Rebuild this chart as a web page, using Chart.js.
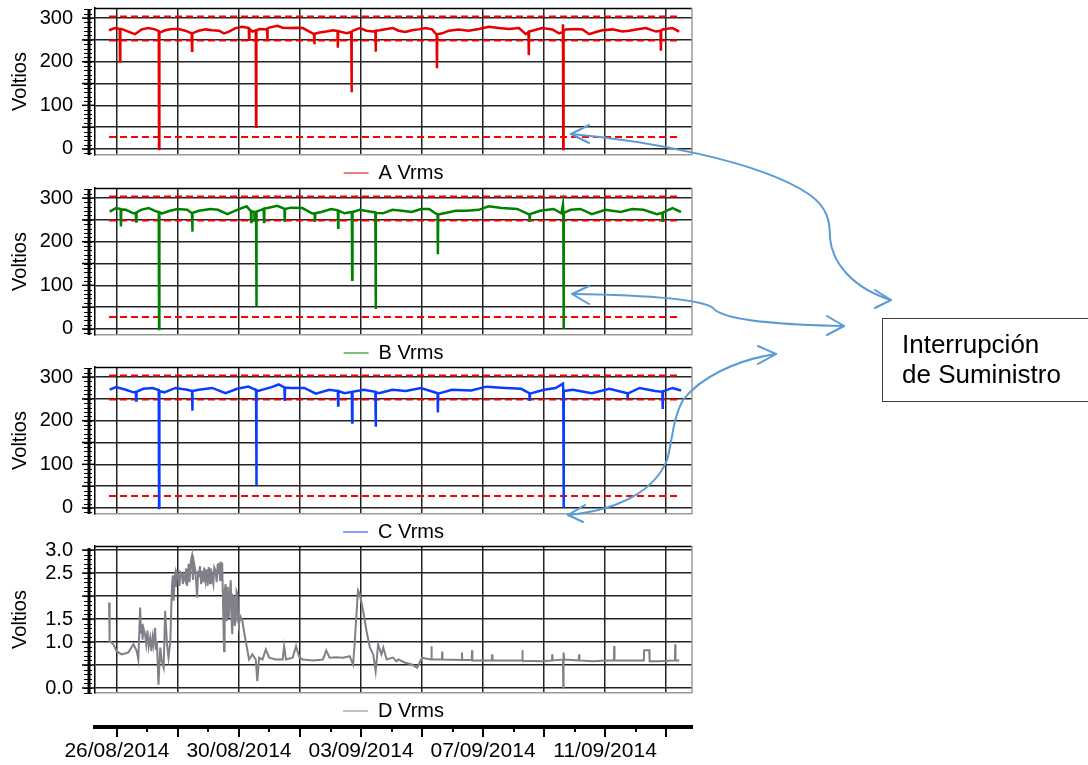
<!DOCTYPE html>
<html><head><meta charset="utf-8">
<script src="https://cdn.jsdelivr.net/npm/chart.js@4.4.1/dist/chart.umd.min.js"></script>
<style>
html,body{margin:0;padding:0;background:#fff;}
#wrap{position:relative;width:1088px;height:765px;overflow:hidden;font-family:"Liberation Sans",Arial,sans-serif;}
canvas{position:absolute;left:0;}
#note{position:absolute;left:882px;top:318px;width:230px;height:84px;border:1.5px solid #404040;box-sizing:border-box;font-size:26px;line-height:30px;color:#000;padding:10px 0 0 19px;white-space:nowrap;}
#arrows{position:absolute;left:0;top:0;pointer-events:none;}
</style></head>
<body>
<div id="wrap">
<canvas id="cA" width="700" height="193" style="top:0px"></canvas>
<canvas id="cB" width="700" height="193" style="top:180px"></canvas>
<canvas id="cC" width="700" height="193" style="top:359px"></canvas>
<canvas id="cD" width="700" height="193" style="top:538px"></canvas>
<canvas id="cX" width="700" height="65" style="top:700px"></canvas>
<svg id="arrows" width="1088" height="765" viewBox="0 0 1088 765">
<g fill="none" stroke="#5B9BD5" stroke-width="2" stroke-linecap="round" stroke-linejoin="round">
<path d="M571,134 C640,140 760,160 810,195 C828,208 830,222 830,238 C832,262 852,288 891,300"/>
<path d="M589,125 L571,134 L589,143"/>
<path d="M875,290 L891,300 L875,308"/>
<path d="M572,294 C640,295 700,298 713,308 C722,320 780,325 844,326"/>
<path d="M589,286 L572,294 L589,304"/>
<path d="M827,316 L844,326 L827,335"/>
<path d="M776,354 C735,360 700,378 683,400 C672,420 672,445 667,460 C655,490 620,510 568,515"/>
<path d="M758,346 L776,354 L758,364"/>
<path d="M585,505 L568,515 L583,522"/>
</g>
</svg>
<div id="note">Interrupción<br>de Suministro</div>
</div>
<script>
// ---------- data (day 0 = 26/08/2014 00:00) ----------
const xMin = -0.72, xMax = 18.85;
const gridDays = [0,2,4,6,8,10,12,14,16,18];
const allDays = [0,1,2,3,4,5,6,7,8,9,10,11,12,13,14,15,16,17,18];
const labelDays = [0,4,8,12,16];
const labelTexts = ['26/08/2014','30/08/2014','03/09/2014','07/09/2014','11/09/2014'];

const voltTicks = [0,50,100,150,200,250,300];
const voltTickLabels = ['0','','100','','200','','300'];
const dTicks = [0,0.5,1,1.5,2,2.5,3];
const dTickLabels = ['0.0','','1.0','1.5','','2.5','3.0'];

const limitSpan = [-0.26, 18.49];
const limits = [27.6, 248.4, 303.6];

const seriesA = [[-0.26,272],[-0.07,277],[0.09,275],[0.10,201],[0.11,275],[0.15,275],[0.37,269],[0.59,263],[0.81,274],[1.03,277],[1.25,274],[1.37,270],[1.38,0],[1.39,268],[1.42,267],[1.58,272],[1.80,275],[2.02,275],[2.24,271],[2.45,265],[2.46,225],[2.47,265],[2.68,271],[2.90,274],[3.12,272],[3.34,271],[3.51,265],[3.67,269],[3.89,277],[4.11,280],[4.32,277],[4.33,250],[4.34,275],[4.44,269],[4.55,272],[4.56,51],[4.57,270],[4.66,275],[4.92,274],[4.93,250],[4.94,276],[4.99,278],[5.26,282],[5.43,278],[5.65,277],[5.87,278],[6.09,277],[6.31,269],[6.46,263],[6.47,240],[6.48,264],[6.64,267],[6.86,269],[7.08,272],[7.23,270],[7.24,232],[7.25,270],[7.52,265],[7.68,268],[7.69,130],[7.70,269],[7.74,271],[7.96,277],[8.18,271],[8.40,269],[8.47,270],[8.48,223],[8.49,271],[8.62,272],[8.84,275],[9.05,277],[9.23,271],[9.45,268],[9.67,272],[9.89,274],[10.11,277],[10.33,274],[10.48,262],[10.49,185],[10.50,263],[10.66,265],[10.88,271],[11.20,274],[11.53,271],[11.86,275],[12.19,280],[12.52,277],[12.85,275],[13.18,277],[13.40,263],[13.49,268],[13.50,215],[13.51,269],[13.61,271],[13.94,277],[14.27,274],[14.49,265],[14.61,268],[14.62,286],[14.63,0],[14.64,270],[14.71,274],[15.04,275],[15.26,274],[15.48,263],[15.70,268],[15.91,272],[16.24,274],[16.57,269],[16.79,271],[17.12,275],[17.34,277],[17.67,269],[17.82,271],[17.83,225],[17.84,272],[17.89,274],[18.21,277],[18.43,269]];

const seriesB = [[-0.24,269],[-0.03,277],[0.12,275],[0.13,235],[0.14,274],[0.29,273],[0.54,265],[0.62,266],[0.63,246],[0.64,267],[0.79,273],[1.04,277],[1.30,269],[1.37,268],[1.38,0],[1.39,267],[1.48,265],[1.74,271],[1.99,275],[2.30,273],[2.46,265],[2.47,223],[2.48,266],[2.68,271],[3.06,275],[3.31,273],[3.62,263],[3.94,273],[4.25,281],[4.39,270],[4.40,245],[4.41,270],[4.44,269],[4.50,268],[4.51,245],[4.52,268],[4.56,268],[4.57,52],[4.58,269],[4.81,275],[4.82,245],[4.83,276],[4.94,277],[5.26,282],[5.49,275],[5.50,245],[5.51,275],[5.70,278],[6.08,277],[6.39,265],[6.48,264],[6.49,245],[6.50,265],[6.70,268],[7.02,275],[7.24,272],[7.25,232],[7.26,271],[7.46,265],[7.70,268],[7.71,113],[7.72,268],[7.96,273],[8.28,269],[8.47,267],[8.48,46],[8.49,266],[8.72,265],[9.03,273],[9.35,271],[9.66,268],[9.97,275],[10.23,275],[10.51,262],[10.52,171],[10.53,262],[10.73,265],[11.11,271],[11.48,271],[11.86,273],[12.18,281],[12.62,277],[13.12,275],[13.52,262],[13.53,245],[13.54,263],[13.87,271],[14.31,275],[14.57,265],[14.62,285],[14.63,270],[14.64,0],[14.65,266],[14.88,273],[15.19,275],[15.57,263],[16.01,273],[16.51,268],[16.89,275],[17.26,273],[17.70,263],[17.88,266],[17.89,245],[17.90,267],[18.21,277],[18.49,268]];

const seriesC = [[-0.24,271],[-0.03,277],[0.29,271],[0.54,265],[0.62,266],[0.63,246],[0.64,266],[0.86,273],[1.17,275],[1.37,270],[1.38,0],[1.39,268],[1.55,265],[1.92,275],[2.30,271],[2.46,268],[2.47,223],[2.48,268],[2.68,271],[3.12,275],[3.56,263],[3.94,273],[4.31,278],[4.56,270],[4.57,52],[4.58,270],[4.63,268],[5.07,277],[5.30,283],[5.49,276],[5.50,245],[5.51,276],[5.70,275],[6.14,275],[6.52,262],[6.96,271],[7.24,268],[7.25,235],[7.26,268],[7.46,263],[7.70,266],[7.71,196],[7.72,266],[8.09,271],[8.47,266],[8.48,186],[8.49,265],[8.59,263],[9.03,271],[9.47,268],[9.97,275],[10.51,263],[10.52,219],[10.53,262],[10.98,271],[11.61,269],[12.11,278],[12.74,275],[13.25,273],[13.52,263],[13.53,245],[13.54,262],[14.00,271],[14.38,275],[14.62,285],[14.63,270],[14.64,0],[14.65,268],[14.94,271],[15.57,263],[16.14,273],[16.73,263],[16.74,250],[16.75,262],[17.13,275],[17.64,268],[17.88,266],[17.89,227],[17.90,267],[18.21,275],[18.49,269]];

const seriesD = [[-0.26,1.86],[-0.25,1.02],[-0.23,1.02],[-0.12,0.95],[-0.01,0.80],[0.15,0.73],[0.37,0.77],[0.54,0.95],[0.65,0.80],[0.70,0.62],[0.76,1.75],[0.79,1.20],[0.81,1.39],[0.84,1.05],[0.87,1.30],[0.92,1.17],[0.96,0.95],[1.00,1.25],[1.04,0.90],[1.09,1.09],[1.13,0.80],[1.17,1.10],[1.20,0.95],[1.25,1.31],[1.28,0.85],[1.31,1.02],[1.36,0.07],[1.42,0.88],[1.47,0.58],[1.53,0.44],[1.58,1.68],[1.64,0.95],[1.69,0.66],[1.75,1.02],[1.80,2.19],[1.83,2.45],[1.86,1.90],[1.89,2.40],[1.91,2.48],[1.94,2.20],[1.97,2.50],[2.02,2.41],[2.05,2.22],[2.08,2.52],[2.13,2.48],[2.16,2.26],[2.19,2.45],[2.24,2.34],[2.27,2.60],[2.30,2.22],[2.35,2.70],[2.38,2.30],[2.42,2.75],[2.46,2.88],[2.49,2.35],[2.52,2.74],[2.57,2.55],[2.60,2.25],[2.63,1.97],[2.66,2.55],[2.68,2.41],[2.72,2.65],[2.76,2.26],[2.79,2.55],[2.83,2.30],[2.86,2.62],[2.90,2.34],[2.94,2.58],[2.97,2.22],[3.01,2.63],[3.05,2.28],[3.08,2.60],[3.12,2.41],[3.16,2.26],[3.19,2.62],[3.23,2.55],[3.27,2.30],[3.30,2.68],[3.34,2.70],[3.38,2.35],[3.41,2.72],[3.45,2.70],[3.51,0.80],[3.53,2.10],[3.56,2.26],[3.60,1.45],[3.63,2.20],[3.67,1.53],[3.70,2.05],[3.73,2.34],[3.76,1.40],[3.78,1.17],[3.81,2.00],[3.84,1.97],[3.86,1.35],[3.89,1.46],[3.92,2.10],[3.95,2.04],[3.97,1.45],[4.00,1.39],[4.05,1.55],[4.11,1.46],[4.16,1.25],[4.22,1.02],[4.33,0.62],[4.44,0.73],[4.55,0.62],[4.60,0.15],[4.66,0.66],[4.77,0.62],[4.88,0.84],[4.99,0.66],[5.21,0.62],[5.43,0.62],[5.48,0.91],[5.54,0.62],[5.76,0.66],[5.87,0.91],[5.98,0.66],[6.09,0.62],[6.42,0.60],[6.75,0.62],[6.86,0.82],[6.97,0.66],[7.19,0.67],[7.41,0.66],[7.63,0.69],[7.74,0.51],[7.79,0.95],[7.90,2.12],[7.96,2.04],[8.07,1.68],[8.18,1.24],[8.29,0.88],[8.40,0.73],[8.48,0.36],[8.56,0.95],[8.67,0.73],[8.73,0.88],[8.84,0.62],[9.05,0.66],[9.16,0.58],[9.23,0.62],[9.45,0.55],[9.67,0.51],[9.84,0.44],[10.00,0.66],[10.11,0.64],[10.30,0.62],[10.31,0.91],[10.32,0.62],[10.65,0.62],[10.66,0.79],[10.67,0.62],[11.30,0.61],[11.31,0.77],[11.32,0.61],[11.63,0.61],[11.64,0.82],[11.65,0.60],[12.29,0.60],[12.30,0.73],[12.31,0.60],[12.85,0.60],[13.28,0.60],[13.29,0.82],[13.30,0.59],[13.94,0.58],[14.26,0.60],[14.27,0.73],[14.28,0.60],[14.62,0.62],[14.63,0.00],[14.64,0.77],[14.66,0.62],[15.14,0.60],[15.15,0.73],[15.16,0.60],[15.59,0.58],[16.02,0.60],[16.29,0.60],[16.30,0.91],[16.31,0.60],[16.68,0.60],[17.27,0.60],[17.28,0.82],[17.45,0.82],[17.46,0.58],[17.78,0.58],[18.29,0.60],[18.30,0.95],[18.31,0.60],[18.43,0.60]];

// ---------- rendering ----------
const FAMILY = '"Liberation Sans", Arial, sans-serif';
Chart.defaults.font.family = FAMILY;
Chart.defaults.color = '#000';

const framePlugin = {
  id: 'frame',
  afterDraw(chart, args, opts) {
    const {ctx, chartArea: {left, top, right, bottom}} = chart;
    const ys = chart.scales.y;
    ctx.save();
    ctx.lineWidth = 1.5;
    ctx.strokeStyle = '#000';
    ctx.beginPath(); ctx.moveTo(left, top + 0.5); ctx.lineTo(right, top + 0.5); ctx.stroke();
    ctx.strokeStyle = '#9a9a9a';
    ctx.beginPath(); ctx.moveTo(right, top); ctx.lineTo(right, bottom); ctx.stroke();
    const sx = left - 6;
    ctx.strokeStyle = '#000';
    ctx.lineWidth = 3;
    ctx.beginPath(); ctx.moveTo(sx, top + 2); ctx.lineTo(sx, bottom); ctx.stroke();
    ctx.lineWidth = 1;
    const step = opts.minor;
    const n0 = Math.ceil(ys.min / step), n1 = Math.floor(ys.max / step);
    for (let k = n0; k <= n1; k++) {
      const py = Math.round(ys.getPixelForValue(k * step)) + 0.5;
      ctx.beginPath(); ctx.moveTo(sx - 5, py); ctx.lineTo(sx + 3, py); ctx.stroke();
    }
    ctx.lineWidth = 1.5;
    ys.ticks.forEach(t => {
      const py = ys.getPixelForValue(t.value);
      ctx.beginPath(); ctx.moveTo(sx - 7, py); ctx.lineTo(left, py); ctx.stroke();
    });
    ctx.restore();
  }
};

function thinLegendLabels(chart) {
  return Chart.defaults.plugins.legend.labels.generateLabels(chart).map(l => Object.assign(l, {lineWidth: 1}));
}

function panel(id, points, color, lineW, name, ticks, tickLabels, yMin, yMax, lims, minor) {
  const datasets = [{
    label: name,
    data: points.map(p => ({x: p[0], y: p[1]})),
    borderColor: color, backgroundColor: color,
    borderWidth: lineW, pointRadius: 0, tension: 0
  }];
  lims.forEach(v => datasets.push({
    label: 'limit',
    data: [{x: limitSpan[0], y: v}, {x: limitSpan[1], y: v}],
    borderColor: '#ff0000', borderWidth: 2, borderDash: [7, 4], pointRadius: 0
  }));
  return new Chart(document.getElementById(id), {
    type: 'line',
    data: {datasets},
    options: {
      responsive: false, animation: false, devicePixelRatio: 1,
      layout: {padding: {top: 8, right: 8, left: 0, bottom: 0}},
      plugins: {
        legend: {
          position: 'bottom', fullSize: false,
          labels: {
            usePointStyle: true, pointStyle: 'line', pointStyleWidth: 25,
            font: {size: 20, family: FAMILY}, color: '#000', padding: 8,
            generateLabels: thinLegendLabels,
            filter: item => item.datasetIndex === 0
          }
        },
        tooltip: {enabled: false},
        frame: {minor}
      },
      scales: {
        x: {
          type: 'linear', min: xMin, max: xMax,
          afterBuildTicks: s => { s.ticks = gridDays.map(v => ({value: v})); },
          afterFit: s => { s.height = 0; s.paddingLeft = 0; s.paddingRight = 0; },
          ticks: {display: false},
          grid: {color: '#222', lineWidth: 1.5, drawTicks: false},
          border: {color: '#9a9a9a', width: 1.5}
        },
        y: {
          type: 'linear', min: yMin, max: yMax,
          afterBuildTicks: s => { s.ticks = ticks.map(v => ({value: v})); },
          afterFit: s => { s.width = 95; s.paddingTop = 0; s.paddingBottom = 0; },
          ticks: {
            autoSkip: false,
            padding: 22, font: {size: 20, family: FAMILY}, color: '#000',
            callback: (v, i) => tickLabels[i]
          },
          grid: {color: '#222', lineWidth: 1.5, drawTicks: false},
          border: {color: '#000', width: 1.5},
          title: {display: true, text: 'Voltios', color: '#000',
                  font: {size: 20, family: FAMILY}, padding: {top: 8, bottom: 0}}
        }
      }
    },
    plugins: [framePlugin]
  });
}

panel('cA', seriesA, '#e60000', 2.5, 'A Vrms', voltTicks, voltTickLabels, -13.8, 323, limits, 10);
panel('cB', seriesB, '#008000', 2.5, 'B Vrms', voltTicks, voltTickLabels, -13.8, 323, limits, 10);
panel('cC', seriesC, '#0a3cff', 2.5, 'C Vrms', voltTicks, voltTickLabels, -13.8, 323, limits, 10);
panel('cD', seriesD, '#808088', 2, 'D Vrms', dTicks, dTickLabels, -0.109, 3.088, [], 0.1);

// bottom date axis
const dayTickPlugin = {
  id: 'dayTicks',
  afterDraw(chart) {
    const {ctx, chartArea: {bottom}} = chart;
    const xs = chart.scales.x;
    ctx.save();
    ctx.strokeStyle = '#000';
    ctx.lineWidth = 2;
    allDays.forEach(d => {
      const px = Math.round(xs.getPixelForValue(d));
      const len = (d % 2 === 0) ? 10 : 5;
      ctx.beginPath(); ctx.moveTo(px, bottom + 2); ctx.lineTo(px, bottom + len); ctx.stroke();
    });
    ctx.restore();
  }
};
new Chart(document.getElementById('cX'), {
  type: 'line',
  data: {datasets: []},
  options: {
    responsive: false, animation: false, devicePixelRatio: 1,
    layout: {padding: {left: 95, right: 8, top: 0, bottom: 0}},
    plugins: {legend: {display: false}, tooltip: {enabled: false}},
    scales: {
      x: {
        type: 'linear', min: xMin, max: xMax,
        afterBuildTicks: s => { s.ticks = allDays.map(v => ({value: v})); },
        afterFit: s => { s.height = 38; },
        ticks: {
          autoSkip: false, maxRotation: 0, padding: 12,
          font: {size: 21, family: FAMILY}, color: '#000',
          callback: v => { const i = labelDays.indexOf(v); return i >= 0 ? labelTexts[i] : ''; }
        },
        grid: {display: false, drawTicks: false},
        border: {display: true, color: '#000', width: 4}
      },
      y: {display: false, min: 0, max: 1}
    }
  },
  plugins: [dayTickPlugin]
});
</script>
</body></html>
